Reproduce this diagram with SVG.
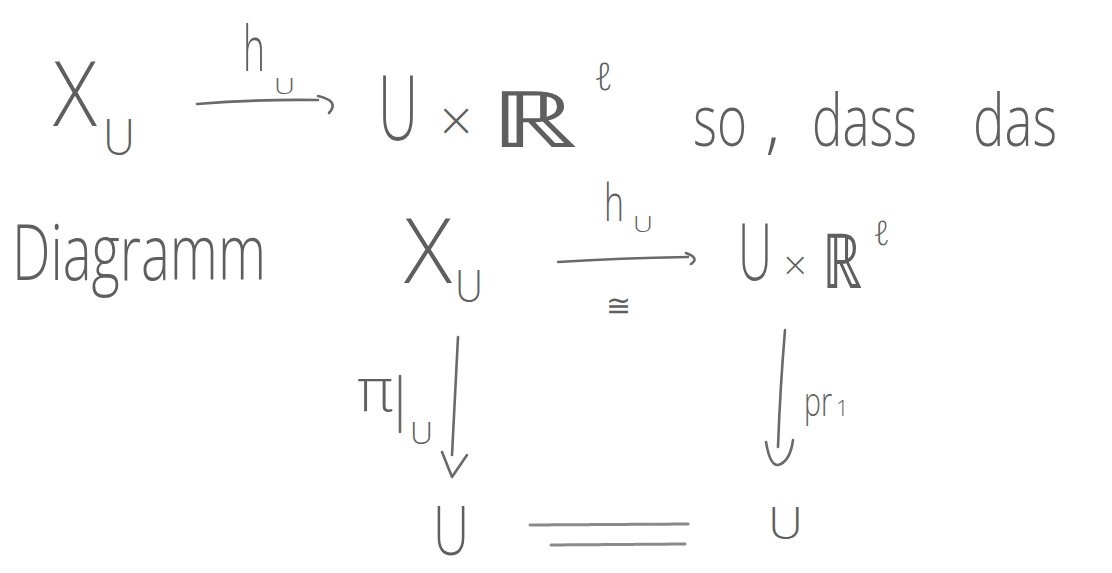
<svg xmlns="http://www.w3.org/2000/svg" width="1112" height="573" viewBox="0 0 1112 573">
<style>
text{font-family:"Open Sans","DejaVu Sans",sans-serif;font-weight:300;fill:#5f5f5f}
.m{font-family:"DejaVu Sans","Open Sans",sans-serif;font-weight:300}
.c{fill:none;stroke:#6a6a6a;stroke-width:2.6;stroke-linecap:round;stroke-linejoin:round}
.d{fill:none;stroke:#8a8a8a;stroke-width:3;stroke-linecap:round;stroke-dasharray:5 1}
</style>
<rect width="1112" height="573" fill="#ffffff"/>

<g id="row1-XU">
<text x="53" y="126" font-size="90" textLength="44" lengthAdjust="spacingAndGlyphs">X</text>
<text x="103" y="155" font-size="50" textLength="32" lengthAdjust="spacingAndGlyphs">U</text>
</g>
<g id="row1-UxR">
<text x="378" y="140" font-size="90" textLength="40" lengthAdjust="spacingAndGlyphs">U</text>
<text class="m" x="436" y="136" font-size="48">×</text>
<text class="m" x="490" y="147" font-size="78" textLength="88" lengthAdjust="spacingAndGlyphs">ℝ</text>
<text class="m" x="594" y="90" font-size="38">ℓ</text>
</g>
<g id="row1-text">
<text x="693" y="146" font-size="72"><tspan x="693" textLength="54" lengthAdjust="spacingAndGlyphs">so</tspan><tspan x="765">,</tspan><tspan x="812" textLength="105" lengthAdjust="spacingAndGlyphs">dass</tspan><tspan x="973" textLength="84" lengthAdjust="spacingAndGlyphs">das</tspan></text>
</g>

<g id="diagramm-label">
<text x="12" y="280" font-size="78" textLength="254" lengthAdjust="spacingAndGlyphs">Diagramm</text>
</g>
<g id="node-XU">
<text x="404" y="283" font-size="90" textLength="48" lengthAdjust="spacingAndGlyphs">X</text>
<text x="455" y="302" font-size="44" textLength="28" lengthAdjust="spacingAndGlyphs">U</text>
</g>
<g id="node-UxR">
<text x="738" y="280" font-size="80" textLength="34" lengthAdjust="spacingAndGlyphs">U</text>
<text class="m" x="781" y="276" font-size="34">×</text>
<text class="m" x="822" y="288" font-size="76" textLength="40" lengthAdjust="spacingAndGlyphs">ℝ</text>
<text class="m" x="873" y="245" font-size="34">ℓ</text>
</g>
<g id="node-U-left">
<text x="433" y="555" font-size="68" textLength="36" lengthAdjust="spacingAndGlyphs">U</text>
</g>
<g id="node-U-right">
<text x="768" y="539" font-size="44" textLength="35" lengthAdjust="spacingAndGlyphs">U</text>
</g>

<g id="connectors">
<path class="c" d="M197,104 Q260,99 318,100"/>
<path class="c" d="M318,96 Q340,101 329,113"/>
<text x="243" y="71" font-size="63" textLength="22" lengthAdjust="spacingAndGlyphs">h</text>
<text x="274" y="94" font-size="22" textLength="21" lengthAdjust="spacingAndGlyphs">U</text>

<path class="c" d="M558,262 Q620,258 688,257"/>
<path class="c" d="M686,253 Q700,258 691,264"/>
<text x="604" y="221" font-size="52" textLength="20" lengthAdjust="spacingAndGlyphs">h</text>
<text x="633" y="232" font-size="22" textLength="20" lengthAdjust="spacingAndGlyphs">U</text>
<text class="m" x="606" y="316" font-size="30">≅</text>

<path class="c" d="M458,337 Q455,400 452,455"/>
<path class="c" d="M442,452 L452,477 L467,455"/>
<text class="m" x="356" y="411" font-size="58" textLength="38" lengthAdjust="spacingAndGlyphs">π</text>
<path class="c" d="M400,376 L400,432"/>
<text x="410" y="444" font-size="32">U</text>

<path class="c" d="M785,330 Q780,390 778,447"/>
<path class="c" d="M766,442 Q770,466 778,465 Q790,462 793,440"/>
<text x="804" y="416" font-size="40" textLength="28" lengthAdjust="spacingAndGlyphs">pr</text>
<text x="836" y="416" font-size="22">1</text>

<path class="d" d="M530,525 L688,524"/>
<path class="d" d="M551,545 L685,544"/>
</g>
</svg>
